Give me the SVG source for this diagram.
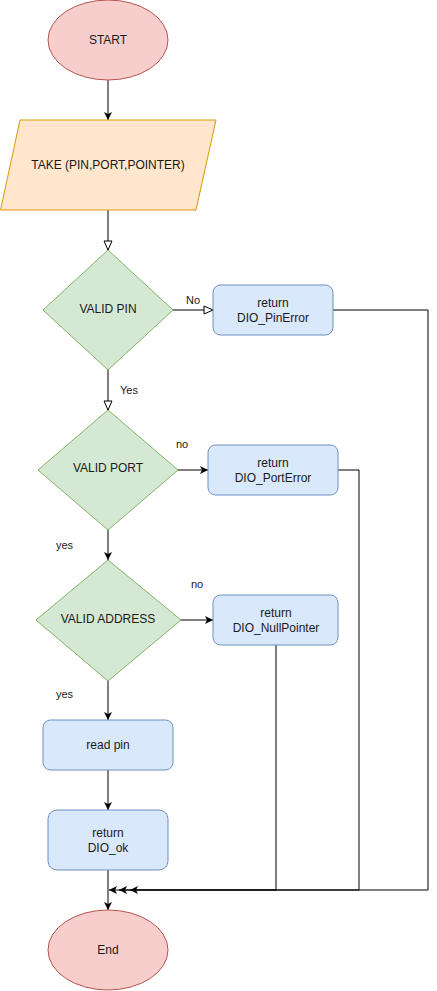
<svg xmlns="http://www.w3.org/2000/svg" width="437" height="991" viewBox="0 0 437 991">
<style>
text{font-family:"Liberation Sans",Arial,sans-serif;font-size:12px;fill:#1a1a1a;text-anchor:middle;dominant-baseline:central}
.lbl{font-size:11px;text-anchor:start}
.term{fill:#f8cecc;stroke:#b85450}
.io{fill:#ffe6cc;stroke:#d79b00}
.dec{fill:#d5e8d4;stroke:#82b366}
.proc{fill:#dae8fc;stroke:#6c8ebf}
.edge{fill:none;stroke:#000;stroke-width:1}
.f{marker-end:url(#arr)}
.o{marker-end:url(#open)}
</style>
<defs>
<marker id="arr" markerUnits="userSpaceOnUse" markerWidth="10" markerHeight="10" refX="8" refY="4" orient="auto">
<path d="M0,0 L8,4 L0,8 L2,4 Z" fill="#000"/>
</marker>
<marker id="open" markerUnits="userSpaceOnUse" markerWidth="12" markerHeight="12" refX="10" refY="5" orient="auto">
<path d="M1,1 L10,5 L1,9 Z" fill="#fff" stroke="#000" stroke-width="1"/>
</marker>
</defs>
<g id="connectors">
<path class="edge f" d="M108,80 L108,120"/>
<path class="edge o" d="M108,210 L108,250"/>
<path class="edge o" d="M173,310 L213,310"/>
<path class="edge o" d="M108,370 L108,410"/>
<path class="edge f" d="M178,470 L208,470"/>
<path class="edge f" d="M108,530 L108,560"/>
<path class="edge f" d="M181,620 L213,620"/>
<path class="edge f" d="M108,681 L108,720"/>
<path class="edge f" d="M108,770 L108,810"/>
<path class="edge f" d="M108,870 L108,910"/>
<path class="edge f" d="M333,310 L428,310 L428,890 L130,890"/>
<path class="edge f" d="M338,470 L359,470 L359,890 L119,890"/>
<path class="edge f" d="M276,645 L276,890 L109,890"/>
<text class="lbl" x="186" y="300">No</text>
<text class="lbl" x="120" y="390">Yes</text>
<text class="lbl" x="176" y="444">no</text>
<text class="lbl" x="56" y="545">yes</text>
<text class="lbl" x="191" y="584">no</text>
<text class="lbl" x="56" y="694">yes</text>
</g>
<g id="start">
<ellipse class="term" cx="108" cy="40" rx="60" ry="40"/>
<text x="108" y="40">START</text>
</g>
<g id="take">
<polygon class="io" points="20,120 216,120 196,210 0.5,210"/>
<text x="108" y="165">TAKE (PIN,PORT,POINTER)</text>
</g>
<g id="valid-pin">
<polygon class="dec" points="108,250 173,310 108,370 43,310"/>
<text x="108" y="309">VALID PIN</text>
</g>
<g id="pin-error">
<rect class="proc" x="213" y="285" width="120" height="50" rx="7.5"/>
<text x="273" y="303">return</text>
<text x="273" y="318">DIO_PinError</text>
</g>
<g id="valid-port">
<polygon class="dec" points="108,410 178,470 108,530 38,470"/>
<text x="108" y="468">VALID PORT</text>
</g>
<g id="port-error">
<rect class="proc" x="208" y="445" width="130" height="50" rx="7.5"/>
<text x="273" y="463">return</text>
<text x="273" y="478">DIO_PortError</text>
</g>
<g id="valid-address">
<polygon class="dec" points="108,560 181,620 108,681 36,620"/>
<text x="108" y="619">VALID ADDRESS</text>
</g>
<g id="null-pointer">
<rect class="proc" x="213" y="595" width="125" height="50" rx="7.5"/>
<text x="276" y="613">return</text>
<text x="276" y="628">DIO_NullPointer</text>
</g>
<g id="read-pin">
<rect class="proc" x="43" y="720" width="130" height="50" rx="7.5"/>
<text x="108" y="745">read pin</text>
</g>
<g id="return-ok">
<rect class="proc" x="48" y="810" width="120" height="60" rx="9"/>
<text x="108" y="833">return</text>
<text x="108" y="848">DIO_ok</text>
</g>
<g id="end">
<ellipse class="term" cx="108" cy="950" rx="60" ry="40"/>
<text x="108" y="950">End</text>
</g>
</svg>
